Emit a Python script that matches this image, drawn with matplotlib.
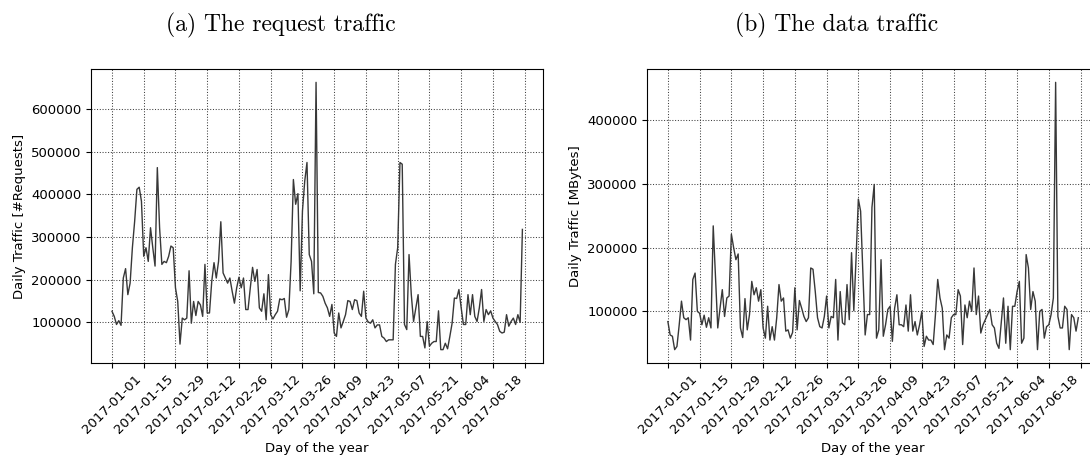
import pandas as pd
import matplotlib
matplotlib.use("Agg")
import matplotlib.pyplot as plt
from matplotlib.ticker import MultipleLocator

plt.rcParams["font.size"] = 9.5

# one value per day, 2017-01-01 .. 2017-07-01 (in thousands)
days = pd.date_range("2017-01-01", "2017-07-01", freq="D")

requests_k = [
    126, 114, 95, 104, 93, 204, 226, 165, 192, 275, 337, 412, 417, 384,
    255, 275, 243, 322, 275, 232, 463, 322, 236, 243, 240, 255, 279, 275,
    181, 149, 49, 110, 106, 110, 221, 98, 149, 116, 149, 141, 114, 236,
    122, 122, 196, 240, 204, 243, 336, 216, 204, 192, 204, 173, 145, 181,
    206, 181, 204, 130, 130, 181, 229, 196, 224, 134, 126, 167, 106, 212,
    118, 108, 118, 126, 155, 153, 156, 112, 130, 243, 435, 377, 402, 174,
    361, 431, 475, 259, 243, 167, 663, 170, 169, 161, 145, 134, 114, 142,
    75, 67, 122, 87, 102, 118, 151, 149, 130, 153, 151, 122, 114, 173,
    110, 101, 98, 106, 87, 94, 94, 67, 63, 55, 59, 59, 59, 236,
    275, 475, 471, 95, 83, 259, 165, 102, 134, 165, 67, 67, 40, 102,
    44, 51, 55, 55, 127, 36, 36, 51, 38, 67, 98, 157, 156, 177,
    134, 95, 95, 165, 118, 165, 114, 102, 134, 177, 102, 130, 118, 127,
    110, 102, 95, 79, 75, 77, 118, 91, 102, 110, 95, 118, 100, 318,
]

mbytes_k = [
    84, 63, 61, 40, 45, 79, 116, 90, 87, 90, 55, 150, 160, 100,
    97, 79, 94, 75, 90, 74, 234, 152, 74, 105, 134, 92, 121, 124,
    221, 200, 181, 190, 74, 59, 120, 71, 95, 147, 126, 137, 116, 134,
    74, 58, 108, 55, 76, 55, 90, 142, 116, 121, 69, 71, 58, 67,
    137, 71, 117, 105, 92, 84, 90, 168, 166, 131, 90, 76, 74, 92,
    124, 74, 92, 90, 150, 55, 131, 82, 79, 142, 87, 192, 101, 184,
    276, 257, 158, 63, 95, 95, 263, 299, 58, 71, 181, 61, 79, 103,
    108, 53, 105, 126, 79, 79, 76, 110, 69, 126, 69, 84, 63, 79,
    100, 45, 61, 55, 55, 48, 95, 150, 121, 105, 40, 63, 58, 90,
    95, 95, 134, 124, 48, 110, 90, 116, 100, 168, 95, 124, 66, 79,
    87, 95, 103, 79, 74, 50, 42, 82, 121, 50, 108, 40, 108, 108,
    131, 147, 50, 58, 189, 168, 103, 131, 116, 40, 100, 103, 58, 76,
    79, 95, 121, 459, 92, 74, 74, 108, 103, 40, 95, 90, 69, 90,
]

requests = [v * 1000 for v in requests_k]
mbytes = [v * 1000 for v in mbytes_k]

tick_dates = pd.date_range("2017-01-01", periods=14, freq="14D")
tick_labels = [d.strftime("%Y-%m-%d") for d in tick_dates[:-1]] + [""]


def draw_panel(ax, values, ylabel):
    ax.plot(days, values, color="#383838", linewidth=1.0)
    ax.set_xticks(tick_dates)
    ax.set_xticklabels(tick_labels, rotation=45)
    ax.yaxis.set_major_locator(MultipleLocator(100000))
    ax.grid(True, linestyle=":", color="0.25", linewidth=0.75)
    ax.set_xlabel("Day of the year")
    ax.set_ylabel(ylabel)


fig = plt.figure(figsize=(10.9, 4.55), dpi=100)
ax1 = fig.add_axes([0.0839, 0.2022, 0.4142, 0.6462])
ax2 = fig.add_axes([0.5939, 0.2022, 0.4142, 0.6462])

draw_panel(ax1, requests, "Daily Traffic [#Requests]")
draw_panel(ax2, mbytes, "Daily Traffic [MBytes]")

fig.text(0.258, 0.943, "(a) The request traffic", family="cmr10",
         fontsize=17, ha="center", va="center")
fig.text(0.7675, 0.943, "(b) The data traffic", family="cmr10",
         fontsize=17, ha="center", va="center")

fig.savefig("out.png", dpi=100)
